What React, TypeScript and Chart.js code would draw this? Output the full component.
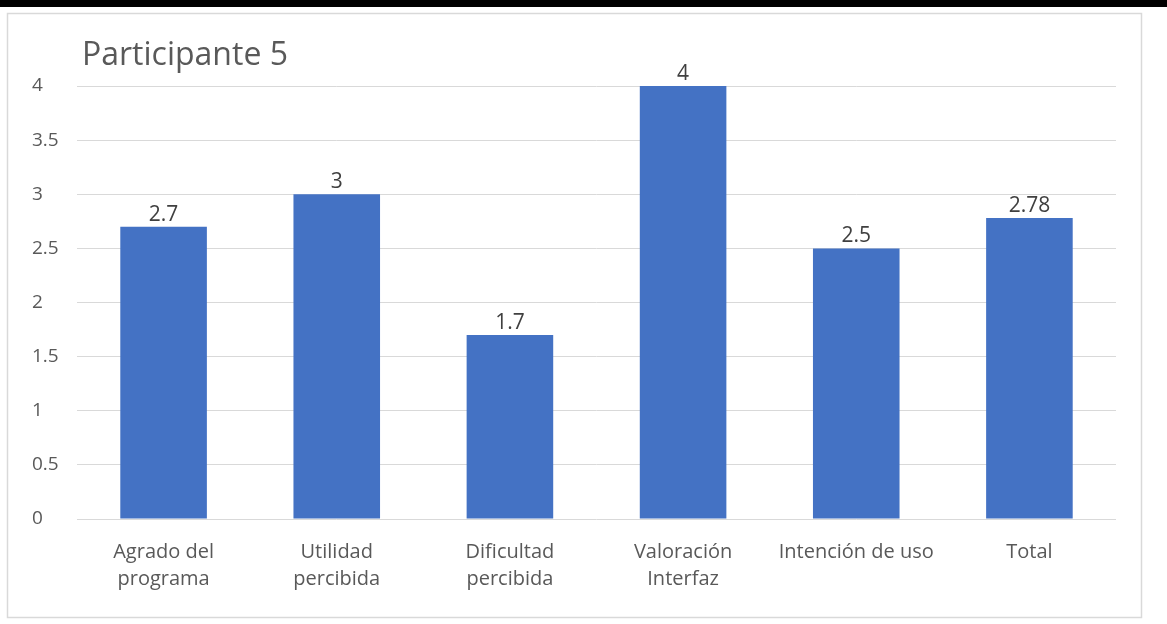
import React, { useEffect, useRef } from "react";
import { Chart, registerables } from "chart.js";

Chart.register(...registerables);

// Survey dimensions and the participant's mean score for each
const categories: (string | string[])[] = [
  ["Agrado del", "programa"],
  ["Utilidad", "percibida"],
  ["Dificultad", "percibida"],
  ["Valoración", "Interfaz"],
  "Intención de uso",
  "Total",
];
const scores = [2.7, 3, 1.7, 4, 2.5, 2.78];
const yMin = 0;
const yMax = 4;
const yStep = 0.5;
const chartTitle = "Participante 5";

const FONT = "'Open Sans', 'Noto Sans', sans-serif";
const W = 1167;
const H = 624;

// Page frame: black rule along the top and a thin light frame around the chart
const framePlugin = {
  id: "frame",
  beforeDraw(chart: Chart) {
    const ctx = chart.ctx;
    ctx.save();
    ctx.fillStyle = "#ffffff";
    ctx.fillRect(0, 0, W, H);
    ctx.fillStyle = "#000000";
    ctx.fillRect(0, 0, W, 7);
    ctx.strokeStyle = "#d9d9d9";
    ctx.lineWidth = 1.5;
    ctx.strokeRect(7.5, 13.5, 1134, 604);
    ctx.restore();
  },
};

// Title in the upper left corner
const titlePlugin = {
  id: "cornerTitle",
  afterDraw(chart: Chart) {
    const ctx = chart.ctx;
    ctx.save();
    ctx.font = `32px ${FONT}`;
    ctx.fillStyle = "#595959";
    ctx.textAlign = "left";
    ctx.textBaseline = "alphabetic";
    ctx.fillText(chartTitle, 82, 65);
    ctx.restore();
  },
};

// Value labels above each bar
const valueLabelPlugin = {
  id: "valueLabels",
  afterDatasetsDraw(chart: Chart) {
    const ctx = chart.ctx;
    const meta = chart.getDatasetMeta(0);
    ctx.save();
    ctx.font = `21px ${FONT}`;
    ctx.fillStyle = "#404040";
    ctx.textAlign = "center";
    ctx.textBaseline = "alphabetic";
    meta.data.forEach((bar: any, i: number) => {
      ctx.fillText(String(scores[i]), bar.x, bar.y - 6);
    });
    ctx.restore();
  },
};

export default function App() {
  const canvasRef = useRef<HTMLCanvasElement | null>(null);

  useEffect(() => {
    const canvas = canvasRef.current;
    if (!canvas) return;
    const chart = new Chart(canvas, {
      type: "bar",
      data: {
        labels: categories,
        datasets: [
          {
            data: scores,
            backgroundColor: "#4472c4",
            borderWidth: 0,
            categoryPercentage: 1,
            barPercentage: 0.5,
          },
        ],
      },
      options: {
        animation: false,
        responsive: false,
        devicePixelRatio: 1,
        layout: { padding: { left: 32, right: 51, top: 86, bottom: 25 } },
        plugins: {
          legend: { display: false },
          title: { display: false },
          tooltip: { enabled: false },
        },
        scales: {
          x: {
            grid: { display: false },
            border: { display: false },
            ticks: {
              color: "#595959",
              font: { family: FONT, size: 20, lineHeight: 1.38 },
              padding: 11,
              maxRotation: 0,
              autoSkip: false,
            },
            afterFit(scale: any) {
              scale.height = 80;
            },
          },
          y: {
            min: yMin,
            max: yMax,
            border: { display: false },
            grid: { color: "#d9d9d9", lineWidth: 1, drawTicks: false },
            ticks: {
              stepSize: yStep,
              color: "#595959",
              font: { family: FONT, size: 19 },
              crossAlign: "far",
              padding: 0,
              callback: (v: any) => String(v),
            },
            afterFit(scale: any) {
              scale.width = 45;
            },
          },
        },
      },
      plugins: [framePlugin, titlePlugin, valueLabelPlugin],
    });
    return () => chart.destroy();
  }, []);

  return (
    <div style={{ position: "absolute", left: 0, top: 0, width: W, height: H, background: "#fff" }}>
      <canvas ref={canvasRef} width={W} height={H} style={{ display: "block", width: W, height: H }} />
    </div>
  );
}
